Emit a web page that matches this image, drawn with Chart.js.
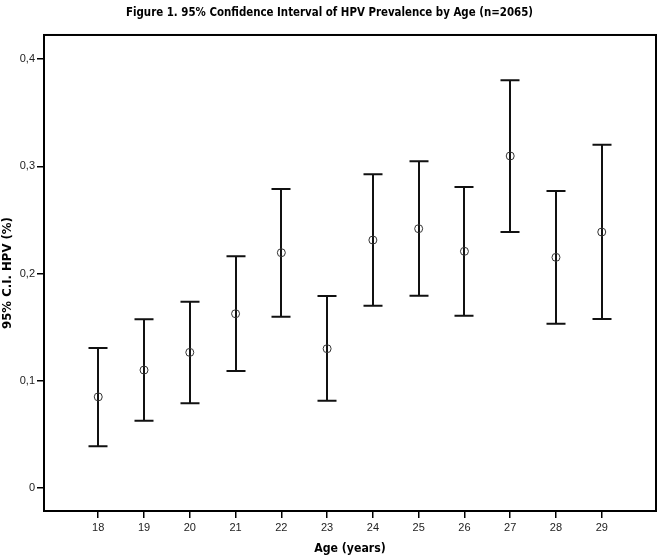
<!DOCTYPE html>
<html>
<head>
<meta charset="utf-8">
<script src="https://cdn.jsdelivr.net/npm/chart.js@4"></script>
<style>
html,body{margin:0;padding:0;background:#fff;}
#wrap{width:661px;height:558px;}
</style>
</head>
<body>
<div id="wrap"><canvas id="c" width="661" height="558"></canvas></div>
<script>
const ages = [18, 19, 20, 21, 22, 23, 24, 25, 26, 27, 28, 29];
const means = [0.085, 0.110, 0.1265, 0.1625, 0.2194, 0.1299, 0.2312, 0.2418, 0.2207, 0.3096, 0.2151, 0.2387];
const lowers = [0.0389, 0.0628, 0.0790, 0.1091, 0.1597, 0.0814, 0.1700, 0.1793, 0.1607, 0.2387, 0.1532, 0.1576];
const uppers = [0.1305, 0.1573, 0.1737, 0.2160, 0.2788, 0.1790, 0.2925, 0.3046, 0.2807, 0.3801, 0.2769, 0.3201];
const yTicks = [0, 0.1, 0.2, 0.3, 0.4];

const narrow = "'Liberation Sans Narrow', 'DejaVu Sans Condensed', 'Liberation Sans', sans-serif";
const regular = "'Liberation Sans', Arial, sans-serif";

const errorBars = {
  id: 'errorBars',
  beforeDatasetsDraw(chart) {
    const {ctx, scales: {x, y}} = chart;
    ctx.save();
    ctx.strokeStyle = '#111';
    ctx.lineWidth = 2;
    ctx.lineCap = 'butt';
    const half = 9.5;
    ages.forEach((a, i) => {
      const px = Math.round(x.getPixelForValue(a));
      const pl = y.getPixelForValue(lowers[i]);
      const pu = y.getPixelForValue(uppers[i]);
      ctx.beginPath();
      ctx.moveTo(px, pl); ctx.lineTo(px, pu);
      ctx.moveTo(px - half, pl); ctx.lineTo(px + half, pl);
      ctx.moveTo(px - half, pu); ctx.lineTo(px + half, pu);
      ctx.stroke();
    });
    ctx.restore();
  },
  afterDraw(chart) {
    const {ctx, chartArea: a} = chart;
    ctx.save();
    ctx.strokeStyle = '#000';
    ctx.lineWidth = 2;
    ctx.strokeRect(a.left, a.top, a.right - a.left, a.bottom - a.top);
    ctx.restore();
  }
};

new Chart(document.getElementById('c'), {
  type: 'scatter',
  data: {
    datasets: [{
      data: ages.map((a, i) => ({x: a, y: means[i]})),
      pointRadius: 4,
      pointHoverRadius: 4,
      pointBorderWidth: 1,
      pointBorderColor: '#333',
      pointBackgroundColor: 'rgba(0,0,0,0)'
    }]
  },
  options: {
    responsive: false,
    animation: false,
    events: [],
    layout: {padding: {top: 0, right: 2, left: 0, bottom: 0}},
    plugins: {
      legend: {display: false},
      tooltip: {enabled: false},
      title: {
        display: true,
        text: 'Figure 1. 95% Confidence Interval of HPV Prevalence by Age (n=2065)',
        color: '#000',
        font: {family: narrow, size: 11.4, weight: 'bold', lineHeight: 1.2},
        padding: {top: 6, bottom: 15.3}
      }
    },
    scales: {
      x: {
        type: 'linear',
        min: 16.815,
        max: 30.185,
        afterBuildTicks(s) { s.ticks = ages.map(v => ({value: v})); },
        afterFit(s) { s.height = 47; },
        grid: {drawOnChartArea: false, drawTicks: true, tickLength: 7, color: '#000', lineWidth: 1.5},
        border: {display: false},
        ticks: {
          color: '#222',
          font: {family: regular, size: 11},
          padding: 3,
          maxRotation: 0,
          autoSkip: false,
          callback: v => String(v)
        },
        title: {
          display: true,
          text: 'Age (years)',
          color: '#000',
          font: {family: narrow, size: 12.2, weight: 'bold', lineHeight: 1.2},
          padding: {top: 0, bottom: 1.5}
        }
      },
      y: {
        type: 'linear',
        min: -0.0214,
        max: 0.4224,
        afterBuildTicks(s) { s.ticks = yTicks.map(v => ({value: v})); },
        afterFit(s) { s.width = 44; },
        grid: {drawOnChartArea: false, drawTicks: true, tickLength: 7, color: '#000', lineWidth: 1.5},
        border: {display: false},
        ticks: {
          color: '#222',
          font: {family: regular, size: 11},
          padding: 2,
          callback: v => v === 0 ? '0' : v.toFixed(1).replace('.', ',')
        },
        title: {
          display: true,
          text: '95% C.I. HPV (%)',
          color: '#000',
          font: {family: narrow, size: 13, weight: 'bold', lineHeight: 1.2},
          padding: {top: 0, bottom: 0}
        }
      }
    }
  },
  plugins: [errorBars]
});
</script>
</body>
</html>
